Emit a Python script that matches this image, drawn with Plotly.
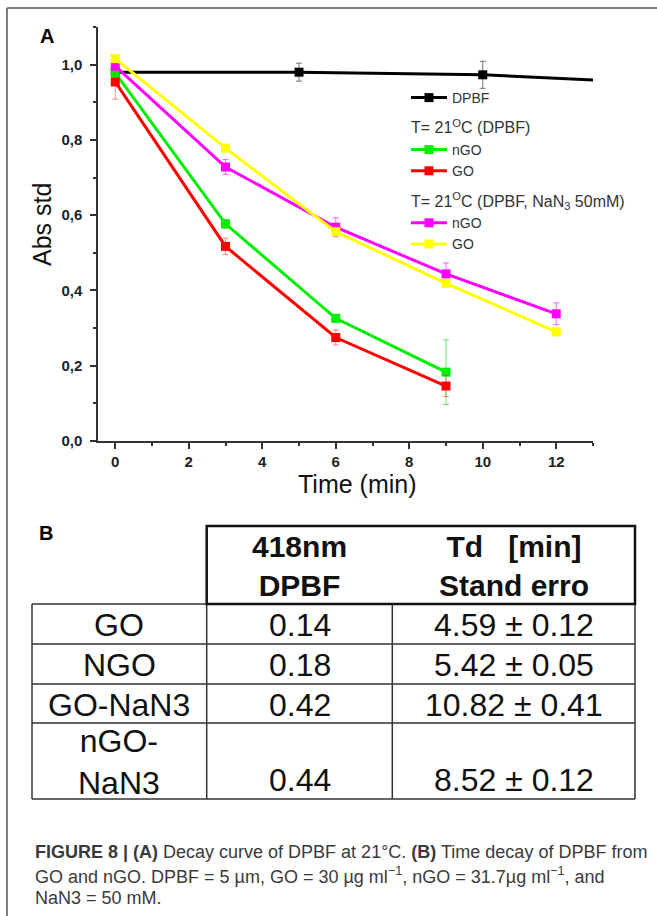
import plotly.graph_objects as go

# ---------------- Panel A: DPBF absorbance decay ----------------
time_dpbf = [0, 5, 10, 15]
abs_dpbf = [0.980, 0.980, 0.973, 0.950]
err_dpbf = [0.0, 0.024, 0.036, 0.0]

time_21 = [0, 3, 6, 9]
abs_ngo_21 = [0.978, 0.577, 0.326, 0.183]
err_ngo_21 = [0.010, 0.012, 0.010, 0.086]
abs_go_21 = [0.954, 0.517, 0.275, 0.146]
err_go_21 = [0.046, 0.022, 0.020, 0.028]

time_nan3 = [0, 3, 6, 9, 12]
abs_ngo_nan3 = [0.996, 0.728, 0.568, 0.444, 0.338]
err_ngo_nan3 = [0.010, 0.020, 0.025, 0.029, 0.029]
abs_go_nan3 = [1.016, 0.778, 0.556, 0.419, 0.290]
err_go_nan3 = [0.006, 0.008, 0.008, 0.008, 0.008]

x_tick_vals = [0, 2, 4, 6, 8, 10, 12]
y_tick_vals = [0.0, 0.2, 0.4, 0.6, 0.8, 1.0]
y_tick_text = ["0,0", "0,2", "0,4", "0,6", "0,8", "1,0"]

# ---------------- Panel B: decay table ----------------
table_rows = ["GO", "NGO", "GO-NaN3", "nGO-<br>NaN3"]
table_head = ["418nm<br>DPBF", "Td\u00a0\u00a0\u00a0[min]<br>Stand erro"]
abs_418 = [0.14, 0.18, 0.42, 0.44]
td_mean = [4.59, 5.42, 10.82, 8.52]
td_err = [0.12, 0.05, 0.41, 0.12]

caption_lines = [
    "<b>FIGURE 8 | (A)</b> Decay curve of DPBF at 21°C. <b>(B)</b> Time decay of DPBF from",
    "GO and nGO. DPBF = 5 µm, GO = 30 µg ml<sup>−1</sup>, nGO = 31.7µg ml<sup>−1</sup>, and",
    "NaN3 = 50 mM.",
]

# ---------------- page geometry (pixels) ----------------
W, H = 657, 916
L, R, T, B = 98, 64, 27, 475
PW, PH = W - L - R, H - T - B


def px(xp):
    return (xp - L) / PW


def py(yp):
    return (H - B - yp) / PH


FONT = "Liberation Sans, Arial, sans-serif"


def series(x, y, err, color, err_color, name, group, group_title=None):
    tr = go.Scatter(
        x=x, y=y, mode="lines+markers", name=name, legendgroup=group,
        line=dict(color=color, width=3),
        marker=dict(symbol="square", size=9, color=color),
        error_y=dict(type="data", array=err, color=err_color, thickness=1, width=3),
        cliponaxis=True,
    )
    if group_title:
        tr.update(legendgrouptitle=dict(text=group_title,
                                        font=dict(family=FONT, size=16, color="#333")))
    return tr


fig = go.Figure()
fig.add_trace(series(time_dpbf, abs_dpbf, err_dpbf, "#000000", "rgba(60,60,60,0.7)",
                     "DPBF", "g0"))
fig.add_trace(series(time_21, abs_ngo_21, err_ngo_21, "#00ee00", "rgba(0,220,0,0.6)",
                     "nGO", "g1", "T= 21<sup>O</sup>C (DPBF)"))
fig.add_trace(series(time_21, abs_go_21, err_go_21, "#ff0000", "rgba(255,60,60,0.6)",
                     "GO", "g1"))
fig.add_trace(series(time_nan3, abs_ngo_nan3, err_ngo_nan3, "#ff00ff", "rgba(255,0,255,0.6)",
                     "nGO", "g2", "T= 21<sup>O</sup>C (DPBF, NaN<sub>3</sub> 50mM)"))
fig.add_trace(series(time_nan3, abs_go_nan3, err_go_nan3, "#ffff00", "rgba(230,230,0,0.6)",
                     "GO", "g2"))

axis_common = dict(
    showline=True, linecolor="#333", linewidth=1.5, showgrid=False, zeroline=False,
    ticks="outside", ticklen=6, tickwidth=1.5, tickcolor="#333",
    tickfont=dict(family=FONT, size=15, color="#222", weight="bold"),
)
fig.update_xaxes(range=[-0.47, 13], tickmode="array", tickvals=x_tick_vals,
                 ticklabelstandoff=0,
                 minor=dict(ticks="outside", ticklen=3, tickwidth=1.5, tickcolor="#333", dtick=1),
                 **axis_common)
fig.update_yaxes(range=[0, 1.1], tickmode="array", tickvals=y_tick_vals, ticktext=y_tick_text,
                 ticklabelstandoff=5,
                 minor=dict(ticks="outside", ticklen=3, tickwidth=1.5, tickcolor="#333",
                            tickvals=[0.1, 0.3, 0.5, 0.7, 0.9, 1.1]),
                 **axis_common)

ann = []
# panel labels and axis titles
ann.append(dict(x=px(47), y=py(36), text="<b>A</b>", font=dict(family=FONT, size=20, color="#000")))
ann.append(dict(x=px(46), y=py(533), text="<b>B</b>", font=dict(family=FONT, size=20, color="#000")))
ann.append(dict(x=px(42), y=py(225), text="Abs std", textangle=-90,
                font=dict(family=FONT, size=25, color="#111")))
ann.append(dict(x=px(357), y=py(484), text="Time (min)",
                font=dict(family=FONT, size=25, color="#111")))

# table geometry
col_x = [32, 206.7, 392.3, 635]
row_y = [604, 644, 684, 723, 799]
head_top = 526

col_c = [(col_x[i] + col_x[i + 1]) / 2 for i in range(3)]
for j, h in enumerate(table_head):
    ann.append(dict(x=px(col_c[j + 1]), y=py((head_top + row_y[0]) / 2 + 1), text="<b>" + h + "</b>",
                    font=dict(family=FONT, size=30, color="#111")))
for i, lab in enumerate(table_rows):
    yc = (row_y[i] + row_y[i + 1]) / 2 + 1
    ann.append(dict(x=px(col_c[0]), y=py(yc), text=lab, font=dict(family=FONT, size=32, color="#111")))
    # values sit on the last text line of the row
    yv = yc if "<br>" not in lab else row_y[i + 1] - 19
    ann.append(dict(x=px(col_c[1]), y=py(yv), text=f"{abs_418[i]:.2f}",
                    font=dict(family=FONT, size=32, color="#111")))
    ann.append(dict(x=px(col_c[2]), y=py(yv), text=f"{td_mean[i]:.2f} ± {td_err[i]:.2f}",
                    font=dict(family=FONT, size=32, color="#111")))

for k, line in enumerate(caption_lines):
    ann.append(dict(x=px(33), y=py(852 + 23 * k), text=line, xanchor="left",
                    font=dict(family=FONT, size=18, color="#3a3a3a")))

for a in ann:
    a.setdefault("xanchor", "center")
    a.update(xref="paper", yref="paper", yanchor="middle", showarrow=False)

shapes = []


def hline(y, x0, x1, w=1.5, c="#333"):
    shapes.append(dict(type="line", xref="paper", yref="paper", x0=px(x0), x1=px(x1),
                       y0=py(y), y1=py(y), line=dict(color=c, width=w)))


def vline(x, y0, y1, w=1.5, c="#333"):
    shapes.append(dict(type="line", xref="paper", yref="paper", x0=px(x), x1=px(x),
                       y0=py(y0), y1=py(y1), line=dict(color=c, width=w)))


# outer frame (top and left rules)
hline(8, 7, 657, 1.5, "#555")
vline(7, 8, 916, 1.5, "#555")

# table rules
for y in row_y:
    hline(y, col_x[0], col_x[3])
for xc in col_x:
    vline(xc, row_y[0], row_y[-1])
# header box
shapes.append(dict(type="rect", xref="paper", yref="paper", x0=px(col_x[1]), x1=px(col_x[3]),
                   y0=py(row_y[0]), y1=py(head_top), line=dict(color="#111", width=2.5)))

fig.update_layout(
    width=W, height=H, margin=dict(l=L, r=R, t=T, b=B),
    paper_bgcolor="white", plot_bgcolor="white",
    annotations=ann, shapes=shapes,
    legend=dict(x=px(406), y=py(82), xanchor="left", yanchor="top", itemwidth=36,
                bgcolor="rgba(0,0,0,0)", traceorder="grouped", tracegroupgap=7,
                font=dict(family=FONT, size=14, color="#333")),
    showlegend=True,
)

fig.write_html("out.html")
